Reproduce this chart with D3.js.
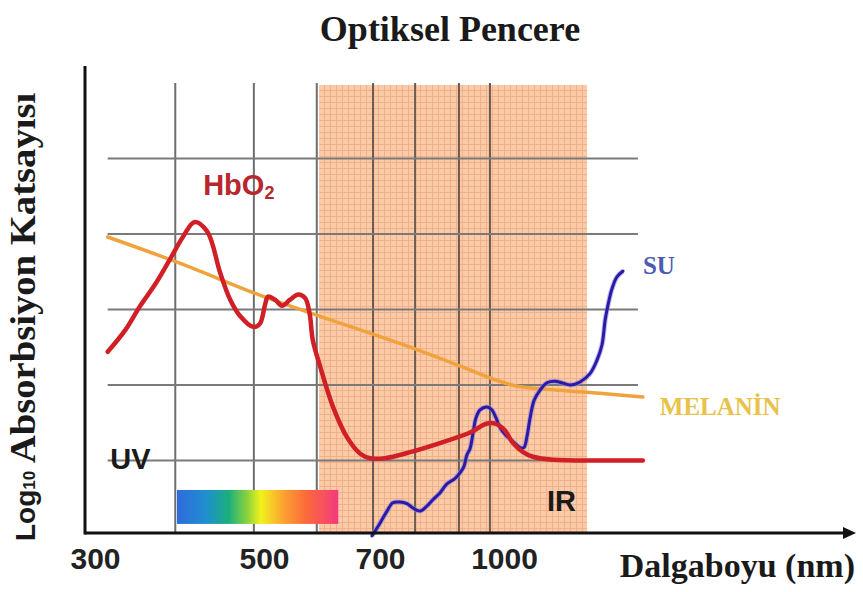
<!DOCTYPE html>
<html><head><meta charset="utf-8">
<script src="https://cdn.jsdelivr.net/npm/d3@7"></script>
<style>html,body{margin:0;padding:0;background:#fff;} svg{display:block}</style>
</head><body>
<svg id="chart" width="863" height="592"></svg>
<script>
// ---------- data ----------
const xTickValues = [300, 500, 700, 1000];
const gridWavelengths = [395, 488, 591, 688, 785, 891, 966];
const gridLevels = [1, 2, 3, 4, 5];
const gridSpan = [315, 1324];
const irBand = [595, 1201];
const visibleBand = [397, 628];
const visibleLevels = [0.16, 0.61];

const hbo2Wavelength = [315,336,353,371,389,404,418,433,448,460,472,487,495,502,507,519,531,545,559,571,579,584,597,619,643,666,683,712,773,845,918,959,983,1002,1022,1046,1070,1119,1232,1336];
const hbo2Value =      [2.44,2.73,3.04,3.33,3.67,3.96,4.16,4.03,3.49,3.13,2.91,2.77,2.81,3.07,3.17,3.13,3.05,3.13,3.2,3.15,2.93,2.6,2.24,1.71,1.31,1.09,1.03,1.03,1.11,1.23,1.37,1.49,1.48,1.4,1.23,1.11,1.05,1.01,1.0,1.0];

const melaninWavelength = [315,401,495,597,748,894,973,1027,1087,1232,1336];
const melaninValue =      [3.96,3.61,3.19,2.91,2.55,2.25,2.08,1.99,1.95,1.89,1.84];

const waterWavelength = [686,700,717,731,748,765,780,797,814,828,845,862,881,894,903,910,918,925,932,942,959,971,981,990,1005,1022,1039,1048,1056,1063,1073,1087,1104,1123,1140,1160,1184,1208,1225,1237,1245,1252,1261,1273,1288];
const waterValue =      [0.0,0.17,0.33,0.44,0.45,0.43,0.37,0.33,0.4,0.48,0.57,0.69,0.76,0.84,0.92,1.07,1.16,1.36,1.56,1.67,1.71,1.67,1.56,1.44,1.33,1.25,1.17,1.17,1.33,1.56,1.8,1.93,2.03,2.05,2.03,2.0,2.04,2.15,2.33,2.53,2.87,3.07,3.27,3.43,3.51];

const titleText = "Optiksel Pencere";
const xLabelText = "Dalgaboyu (nm)";
const yLabelParts = ["Log", "10", " Absorbsiyon Katsayısı"];

// ---------- scales ----------
const svg = d3.select("#chart");
const x = d3.scaleLinear().domain([300, 500, 700, 1000, 1600]).range([95, 264, 380, 504, 752]);
const y = d3.scaleLinear().domain([0, 6]).range([536, 83]);

const frameLeft = 85, frameBottom = 533, frameTop = 66, arrowEnd = 856;

// ---------- defs ----------
const defs = svg.append("defs");
const pat = defs.append("pattern").attr("id", "irgrid").attr("patternUnits", "userSpaceOnUse")
  .attr("width", 6).attr("height", 6).attr("x", 0).attr("y", 0);
pat.append("rect").attr("width", 6).attr("height", 6).attr("fill", "#fbcaa6");
pat.append("path").attr("d", "M0,0.5H6M0.5,0V6").attr("stroke", "#f2b08a").attr("stroke-width", 1);

const grad = defs.append("linearGradient").attr("id", "spectrum").attr("x1", "0%").attr("x2", "100%");
[[0, "#2f6bdc"], [0.18, "#1f8fd0"], [0.32, "#1bae7c"], [0.44, "#8fd43a"], [0.52, "#f2f21c"], [0.66, "#fca232"], [0.8, "#fb6a3a"], [1, "#f43a7e"]]
  .forEach(([o, c]) => grad.append("stop").attr("offset", o).attr("stop-color", c));

// ---------- IR band ----------
svg.append("rect")
  .attr("x", x(irBand[0])).attr("y", y(6) + 2)
  .attr("width", x(irBand[1]) - x(irBand[0]))
  .attr("height", frameBottom - y(6) - 2)
  .attr("fill", "url(#irgrid)");

// ---------- grid ----------
svg.append("g").selectAll("line").data(gridWavelengths).join("line")
  .attr("x1", d => x(d)).attr("x2", d => x(d))
  .attr("y1", y(6)).attr("y2", frameBottom)
  .attr("stroke", d => (d > irBand[0] && d < irBand[1]) ? "#6b5a50" : "#6e6e6e").attr("stroke-width", 2);

svg.append("g").selectAll("line").data(gridLevels).join("line")
  .attr("x1", x(gridSpan[0])).attr("x2", x(gridSpan[1]))
  .attr("y1", d => y(d)).attr("y2", d => y(d))
  .attr("stroke", "#7a7a7a").attr("stroke-width", 2);

// ---------- visible spectrum bar ----------
svg.append("rect")
  .attr("x", x(visibleBand[0])).attr("y", y(visibleLevels[1]))
  .attr("width", x(visibleBand[1]) - x(visibleBand[0]))
  .attr("height", y(visibleLevels[0]) - y(visibleLevels[1]))
  .attr("fill", "url(#spectrum)");

// ---------- curves ----------
const line = d3.line().x(d => x(d[0])).y(d => y(d[1])).curve(d3.curveCatmullRom.alpha(0.5));
const zip = (a, b) => a.map((v, i) => [v, b[i]]);

svg.append("path").datum(zip(melaninWavelength, melaninValue))
  .attr("d", line).attr("fill", "none").attr("stroke", "#f0a23c").attr("stroke-width", 3.5)
  .attr("stroke-linecap", "round");

svg.append("path").datum(zip(waterWavelength, waterValue))
  .attr("d", line).attr("fill", "none").attr("stroke", "#8c86e0").attr("stroke-width", 5)
  .attr("stroke-linejoin", "round").attr("opacity", 0.6);
svg.append("path").datum(zip(waterWavelength, waterValue))
  .attr("d", line).attr("fill", "none").attr("stroke", "#2a1aa6").attr("stroke-width", 3)
  .attr("stroke-linejoin", "round").attr("stroke-linecap", "round");

svg.append("path").datum(zip(hbo2Wavelength, hbo2Value))
  .attr("d", line).attr("fill", "none").attr("stroke", "#d01f26").attr("stroke-width", 4.5)
  .attr("stroke-linejoin", "round").attr("stroke-linecap", "round");

// ---------- axes ----------
svg.append("line").attr("x1", frameLeft).attr("x2", frameLeft).attr("y1", frameTop).attr("y2", frameBottom + 1.5)
  .attr("stroke", "#111").attr("stroke-width", 3);
svg.append("line").attr("x1", frameLeft).attr("x2", arrowEnd - 10).attr("y1", frameBottom).attr("y2", frameBottom)
  .attr("stroke", "#111").attr("stroke-width", 3);
svg.append("path").attr("d", `M${arrowEnd},${frameBottom}L${arrowEnd - 13},${frameBottom - 6}L${arrowEnd - 13},${frameBottom + 6}Z`)
  .attr("fill", "#111");

const xAxis = d3.axisBottom(x).tickValues(xTickValues).tickSize(0).tickPadding(0).tickFormat(d3.format("d"));
const gx = svg.append("g").attr("transform", `translate(0,${frameBottom + 36})`).call(xAxis);
gx.select(".domain").remove();
gx.selectAll("text").attr("font-family", "'Liberation Sans', Arial, sans-serif").attr("font-weight", "bold")
  .attr("font-size", 30).attr("fill", "#222").attr("dy", 0);

// ---------- titles ----------
svg.append("text").attr("x", 450).attr("y", 41).attr("text-anchor", "middle")
  .attr("font-family", "'Liberation Serif', 'Times New Roman', serif").attr("font-weight", "bold")
  .attr("font-size", 36).attr("fill", "#1a1a1a").text(titleText);

svg.append("text").attr("x", 855).attr("y", 577).attr("text-anchor", "end")
  .attr("font-family", "'Liberation Serif', 'Times New Roman', serif").attr("font-weight", "bold")
  .attr("font-size", 34).attr("fill", "#1a1a1a").text(xLabelText);

const yl = svg.append("text").attr("transform", "translate(35,541) rotate(-90)").attr("text-anchor", "start")
  .attr("fill", "#1a1a1a").attr("font-weight", "bold");
yl.append("tspan").attr("font-family", "'Liberation Sans', Arial, sans-serif").attr("font-size", 28).text(yLabelParts[0]);
yl.append("tspan").attr("font-family", "'Liberation Sans', Arial, sans-serif").attr("font-size", 17).text(yLabelParts[1]);
yl.append("tspan").attr("font-family", "'Liberation Serif', 'Times New Roman', serif").attr("font-size", 35)
  .attr("textLength", 378).attr("lengthAdjust", "spacingAndGlyphs").text(yLabelParts[2]);

// ---------- annotations ----------
const sans = "'Liberation Sans', Arial, sans-serif", serif = "'Liberation Serif', 'Times New Roman', serif";
const hb = svg.append("text").attr("x", x(428)).attr("y", y(4.51)).attr("font-family", sans).attr("font-weight", "bold")
  .attr("font-size", 29).attr("fill", "#b8262e");
hb.append("tspan").text("HbO");
hb.append("tspan").attr("font-size", 18).attr("dy", 4).text("2");

svg.append("text").attr("x", x(318)).attr("y", y(0.89)).attr("font-family", sans).attr("font-weight", "bold")
  .attr("font-size", 29).attr("fill", "#1a1a1a").text("UV");
svg.append("text").attr("x", x(1104)).attr("y", y(0.33)).attr("font-family", sans).attr("font-weight", "bold")
  .attr("font-size", 29).attr("fill", "#1a1a1a").text("IR");
svg.append("text").attr("x", x(1336)).attr("y", y(3.47)).attr("font-family", serif).attr("font-weight", "bold")
  .attr("font-size", 25).attr("fill", "#4d5bb5").text("SU");
svg.append("text").attr("x", x(1377)).attr("y", y(1.6)).attr("font-family", serif).attr("font-weight", "bold")
  .attr("font-size", 25).attr("fill", "#e8c24a").text("MELANİN");
</script>
</body></html>
